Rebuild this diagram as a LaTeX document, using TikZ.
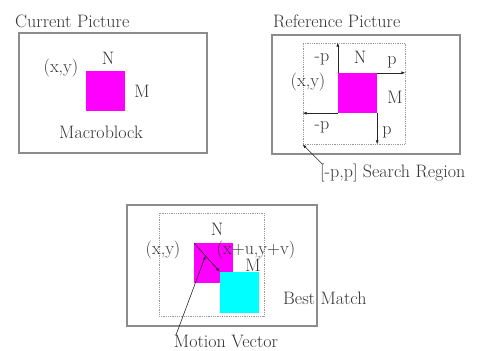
\documentclass[tikz,border=0pt]{standalone}
\usetikzlibrary{arrows.meta,calc}
\definecolor{mbmag}{RGB}{255,0,255}
\definecolor{mbcyan}{RGB}{0,255,255}

\begin{document}
\begin{tikzpicture}[x=1pt,y=-1pt,>={Latex[length=4pt,width=3pt]},
        frame/.style={draw=black!45,line width=1.4pt},
        srch/.style={draw=black!40,densely dotted,line width=0.8pt,inner sep=0pt},
        blk/.style={minimum width=39pt,minimum height=40pt,inner sep=0pt},
        lbl/.style={font=\fontsize{18}{21}\selectfont,text=black!80,inner sep=1pt},
        arr/.style={->,black!85,line width=0.6pt}]

        \useasboundingbox (0,0) rectangle (485,351);

            %current picture
            \node[lbl,anchor=west] (tcur) at (14,21) {Current Picture};
            \draw[frame] (19,33) rectangle (207,153);
            \node[blk,fill=mbmag] (mb1) at (105,91) {};
            \node[lbl] (n1) at (108,58) {N};
            \node[lbl] (m1) at (142,91) {M};
            \node[lbl] (xy1) at (61,68) {(x,y)};
            \node[lbl] (mbl) at (101,132) {Macroblock};

            %reference picture
            \node[lbl,anchor=west] (tref) at (272,21) {Reference Picture};
            \draw[frame] (272,35) rectangle (460,154);
            \node[srch,minimum width=102pt,minimum height=101pt] (sr2) at (354,93.5) {};
            \node[blk,fill=mbmag] (mb2) at (357.5,93) {};

            %freccie +-p
            \draw[arr] (mb2.north west) -- (mb2.north west |- sr2.north);
            \draw[arr] (mb2.north east) -- (mb2.north east -| sr2.east);
            \draw[arr] (mb2.south west) -- (mb2.south west -| sr2.west);
            \draw[arr] (mb2.south east) -- (mb2.south east |- sr2.south);

            \node[lbl] (mp1) at (322,59) {-p};
            \node[lbl] (n2) at (360,57) {N};
            \node[lbl] (p1) at (392,62) {p};
            \node[lbl] (xy2) at (308,82) {(x,y)};
            \node[lbl] (m2) at (395,97) {M};
            \node[lbl] (mp2) at (322,127) {-p};
            \node[lbl] (p2) at (387,132) {p};

            % label regione
            \node[lbl,anchor=west] (tsr) at (319,173) {[-p,p] Search Region};
            \draw[arr] ([xshift=3pt,yshift=-1pt]tsr.north west) -- (sr2.south west);

            %best match
            \draw[frame] (127,205) rectangle (317,326);
            \node[srch,minimum width=105pt,minimum height=103pt] (sr3) at (211.5,264.5) {};
            \node[blk,fill=mbmag] (mb3) at (213.5,263) {};
            \node[blk,fill=mbcyan,minimum height=41pt] (bm3) at (239.5,292.5) {};
            \draw[arr] (mb3.north west) -- (bm3.north west);

            \node[lbl] (n3) at (217,229) {N};
            \node[lbl] (xy3) at (163,250) {(x,y)};
            \node[lbl] (xuv) at (256,250) {(x+u,y+v)};
            \node[lbl] (m3) at (253,265) {M};
            \node[lbl,anchor=west] (tbm) at (282,298) {Best Match};

            % vettore di moto
            \node[lbl] (tmv) at (226,341) {Motion Vector};
            \draw[arr] ([xshift=3pt,yshift=-2pt]tmv.north west) -- ($(mb3.north west)!0.45!(bm3.north west)$);
\end{tikzpicture}
\end{document}
